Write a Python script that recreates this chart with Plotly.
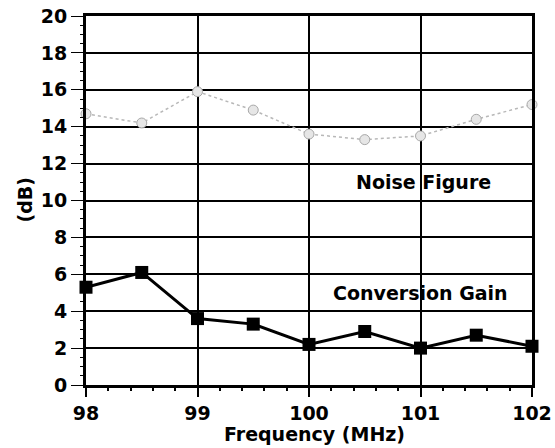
import plotly.graph_objects as go

freq = [98, 98.5, 99, 99.5, 100, 100.5, 101, 101.5, 102]
conversion_gain = [5.3, 6.1, 3.6, 3.3, 2.2, 2.9, 2.0, 2.7, 2.1]
noise_figure = [14.7, 14.2, 15.9, 14.9, 13.6, 13.3, 13.5, 14.4, 15.2]
x_ticks = [98, 99, 100, 101, 102]
y_ticks = [0, 2, 4, 6, 8, 10, 12, 14, 16, 18, 20]

font_family = "DejaVu Sans"
fnt = dict(family=font_family, size=19, color="black", weight="bold")

fig = go.Figure()
fig.add_trace(go.Scatter(
    x=freq, y=noise_figure, mode="lines+markers", cliponaxis=False,
    line=dict(color="#b8b8b8", width=1.5, dash="dot"),
    marker=dict(symbol="circle", size=10, color="#e6e6e6",
                line=dict(color="#a8a8a8", width=1)),
    name="Noise Figure", showlegend=False))
fig.add_trace(go.Scatter(
    x=freq, y=conversion_gain, mode="lines+markers", cliponaxis=False,
    line=dict(color="black", width=3),
    marker=dict(symbol="square", size=13, color="black"),
    name="Conversion Gain", showlegend=False))

fig.add_annotation(x=101.03, y=11.0, text="Noise Figure", showarrow=False, font=fnt)
fig.add_annotation(x=101.0, y=5.0, text="Conversion Gain", showarrow=False, font=fnt)
fig.add_annotation(xref="paper", yref="paper", x=0.513, y=-0.133, text="Frequency (MHz)",
                   showarrow=False, font=fnt, xanchor="center", yanchor="middle")
fig.add_annotation(xref="paper", yref="paper", x=-0.139, y=0.5, text="(dB)", textangle=-90,
                   showarrow=False, font=fnt, xanchor="center", yanchor="middle")

fig.update_layout(
    width=555, height=448,
    margin=dict(l=86, r=23, t=16, b=63),
    paper_bgcolor="white", plot_bgcolor="white",
    font=fnt,
    xaxis=dict(
        range=[98, 102], tickvals=x_ticks, ticktext=[str(v) for v in x_ticks],
        automargin=False,
        showgrid=True, gridcolor="black", gridwidth=1.5,
        showline=True, linecolor="black", linewidth=2.5, mirror=True,
        ticks="outside", ticklen=9, tickcolor="black", tickwidth=1.5,
        minor=dict(dtick=0.2, ticks="outside", ticklen=3, tickcolor="black", showgrid=False),
        zeroline=False,
        tickfont=fnt,
    ),
    yaxis=dict(
        range=[0, 20], tickvals=y_ticks,
        automargin=False,
        showgrid=True, gridcolor="black", gridwidth=1.5,
        showline=True, linecolor="black", linewidth=3, mirror=True,
        ticks="outside", ticklen=12, tickcolor="black", tickwidth=1.3,
        minor=dict(dtick=0.5, ticks="outside", ticklen=3, tickcolor="black", showgrid=False),
        zeroline=False,
        tickfont=fnt,
    ),
)

fig.write_html(
    "out.html",
    config={"displayModeBar": False},
    post_script="document.body.style.margin='0';document.body.style.overflow='hidden';",
)
